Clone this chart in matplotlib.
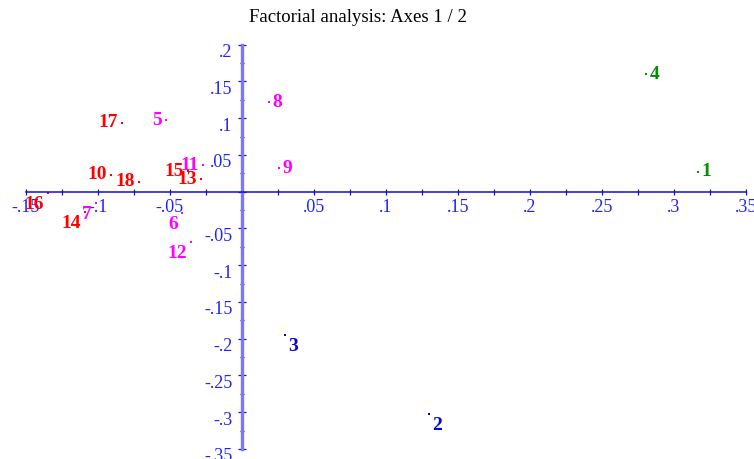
import matplotlib
matplotlib.use("Agg")
import matplotlib.pyplot as plt
import matplotlib.transforms as mtransforms
from matplotlib.ticker import MultipleLocator, FuncFormatter

# ---- data ----
labels = ["1", "2", "3", "4", "5", "6", "7", "8", "9", "10",
          "11", "12", "13", "14", "15", "16", "17", "18"]
xs = [0.3171, 0.1301, 0.0301, 0.2806, -0.0528, -0.0417, -0.1015, 0.0192, 0.0257, -0.0910,
      -0.0267, -0.0354, -0.0285, -0.1088, -0.0370, -0.1343, -0.0829, -0.0711]
ys = [0.0272, -0.3021, -0.1954, 0.1598, 0.0972, -0.0286, -0.0160, 0.1217, 0.0317, 0.0232,
      0.0362, -0.0680, 0.0172, -0.0270, 0.0280, -0.0020, 0.0940, 0.0136]
groups = ["g", "b", "b", "g", "m", "m", "m", "m", "m", "r",
          "m", "m", "r", "r", "r", "r", "r", "r"]
group_colors = {"g": "#009000", "b": "#0000E0", "m": "#FF00FF", "r": "#FF0000"}
title = "Factorial analysis: Axes 1 / 2"
xlim = (-0.15, 0.35)
ylim = (-0.35, 0.2)

W, H, DPI = 754, 460, 100
fig = plt.figure(figsize=(W / DPI, H / DPI), dpi=DPI)
ax = fig.add_axes([25.7 / W, 1 - 450 / H, 720 / W, 404.3 / H])
ax.set_xlim(*xlim)
ax.set_ylim(*ylim)
ax.patch.set_visible(False)

for s in ("top", "right"):
    ax.spines[s].set_visible(False)
ax.spines["left"].set_position(("data", 0))
ax.spines["bottom"].set_position(("data", 0))
ax.spines["left"].set_color("#7878F8")
ax.spines["left"].set_linewidth(2.4)
ax.spines["bottom"].set_color("#1010D0")
ax.spines["bottom"].set_linewidth(1.1)

ax.xaxis.set_major_locator(MultipleLocator(0.05))
ax.xaxis.set_minor_locator(MultipleLocator(0.025))
ax.yaxis.set_major_locator(MultipleLocator(0.05))
ax.yaxis.set_minor_locator(MultipleLocator(0.025))

def fmt(v, pos=None):
    if abs(v) < 1e-9:
        return ""
    s = f"{v:.2f}".rstrip("0").rstrip(".")
    s = s.replace("0.", ".")
    return s

ax.xaxis.set_major_formatter(FuncFormatter(fmt))
ax.yaxis.set_major_formatter(FuncFormatter(fmt))

tick_col = "#1010D0"
lab_col = "#2020FF"
ax.tick_params(axis="x", which="both", direction="inout", length=4.0, width=0.9,
               color=tick_col, labelcolor=lab_col, labelsize=13, pad=2.5)
ax.tick_params(axis="y", which="major", direction="inout", length=5.5, width=0.9,
               color=tick_col, labelcolor=lab_col, labelsize=13, pad=4)
ax.tick_params(axis="y", which="minor", direction="inout", length=3.5, width=0.9,
               color=tick_col)
for lab in ax.get_xticklabels() + ax.get_yticklabels():
    lab.set_fontfamily("Liberation Serif")

# shift y tick labels down a bit
off = mtransforms.ScaledTranslation(0, -5 / DPI, fig.dpi_scale_trans)
for lab in ax.get_yticklabels():
    lab.set_transform(lab.get_transform() + off)

# points and labels
for lbl, x, y, g in zip(labels, xs, ys, groups):
    c = group_colors[g]
    ax.plot([x], [y], marker="s", markersize=1.6, color=c, linestyle="none", markeredgewidth=0)
    dx = 3.5 if x > 0 else -4
    ha = "left" if x > 0 else "right"
    if y >= 0:
        dy, va = 1, "center"
    else:
        dy, va = -2, "top"
    ax.annotate(lbl, (x, y), xytext=(dx * 0.72, dy * 0.72), textcoords="offset points",
                ha=ha, va=va, color=c, fontsize=14, fontweight="bold",
                family="Liberation Serif")

fig.text(358 / W, 1 - 17 / H, title, ha="center", va="center", fontsize=13.5,
         family="Liberation Serif", color="black")

fig.savefig("out.png", dpi=DPI)
